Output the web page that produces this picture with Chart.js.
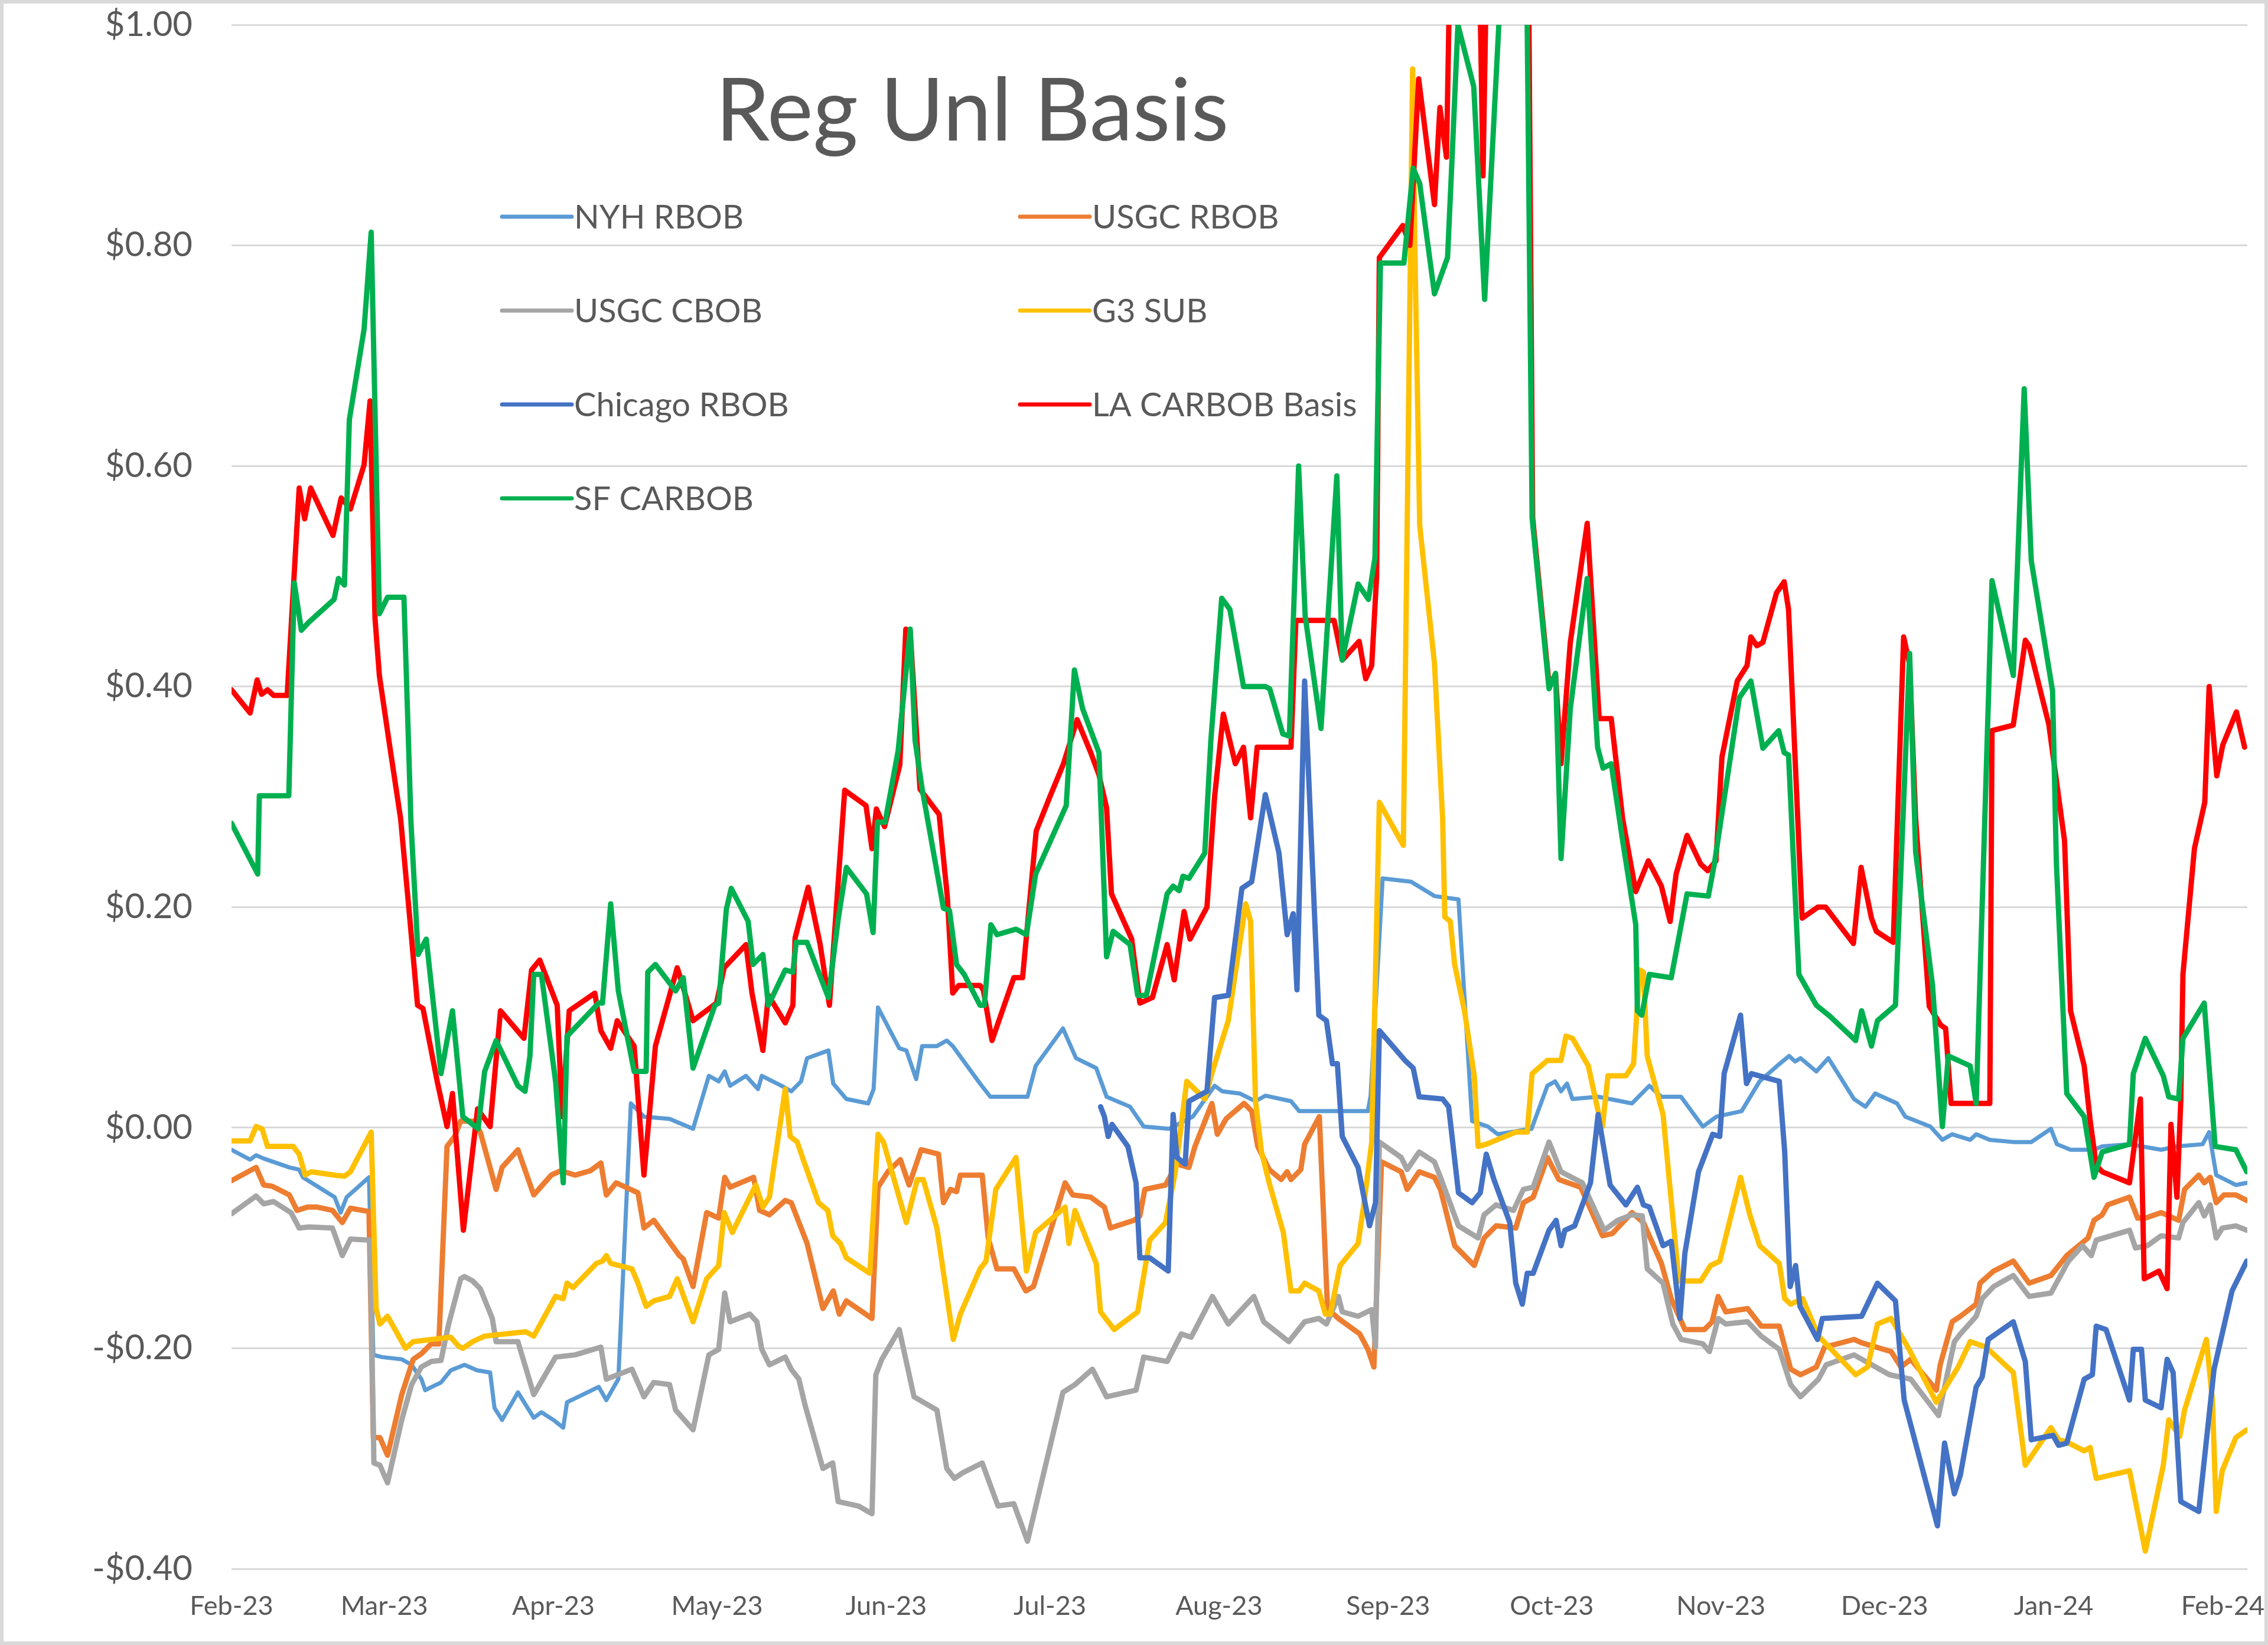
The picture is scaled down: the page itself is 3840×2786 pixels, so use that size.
<!DOCTYPE html>
<html>
<head>
<meta charset="utf-8">
<script src="https://cdn.jsdelivr.net/npm/chart.js@4.4.0/dist/chart.umd.min.js"></script>
<style>
  html, body { margin: 0; padding: 0; background: #fff; }
  #wrap { width: 3840px; height: 2786px; }
</style>
</head>
<body>
<div id="wrap"><canvas id="chart" width="3840" height="2786"></canvas></div>
<script>
var chartTitle = 'Reg Unl Basis';

// month ticks: day offset from 1 Feb 2023
var monthDays   = [0, 28, 59, 89, 120, 150, 181, 212, 242, 273, 303, 334, 365];
var monthLabels = ['Feb-23','Mar-23','Apr-23','May-23','Jun-23','Jul-23','Aug-23','Sep-23','Oct-23','Nov-23','Dec-23','Jan-24','Feb-24'];

var seriesNames = ['NYH RBOB','USGC RBOB','USGC CBOB','G3 SUB','Chicago RBOB','LA CARBOB Basis','SF CARBOB'];

// [day, $/gal]
var nyhRbob = [[0,-0.020],[3.4,-0.029],[4.5,-0.025],[5.9,-0.028],[10.6,-0.036],[12.4,-0.038],[13.1,-0.045],[18.9,-0.063],[20,-0.077],[21.1,-0.063],
  [25.2,-0.045],[26,-0.206],[27.6,-0.208],[31.2,-0.210],[33,-0.215],[34.8,-0.228],[35.5,-0.238],[38.4,-0.231],[40.2,-0.220],[42.7,-0.215],
  [45,-0.220],[47.4,-0.222],[48.2,-0.254],[49.6,-0.265],[52.5,-0.240],[55.4,-0.263],[56.8,-0.258],[59,-0.265],[60.8,-0.272],[61.5,-0.249],
  [67.3,-0.235],[68.7,-0.247],[70.9,-0.228],[73.2,0.022],[75.6,0.010],[80.3,0.008],[84.6,-0.001],[87.5,0.047],[89.3,0.042],[90.4,0.051],
  [91.4,0.038],[94.3,0.047],[96.5,0.035],[97.2,0.047],[100.8,0.038],[102.6,0.033],[104.4,0.042],[105.5,0.063],[109.4,0.070],[110.3,0.040],
  [112.7,0.026],[116.7,0.022],[117.7,0.035],[118.5,0.109],[122.4,0.072],[123.7,0.070],[125.5,0.044],[126.6,0.074],[129.3,0.074],[131.1,0.079],
  [132.2,0.074],[137.2,0.040],[139.1,0.028],[145.9,0.028],[147.4,0.056],[152.4,0.090],[154.8,0.063],[158.5,0.054],[160.4,0.028],[164.7,0.019],
  [167.2,0.001],[171.9,-0.001],[176.2,0.010],[180.2,0.038],[181.6,0.033],[184.8,0.031],[187.7,0.024],[189.5,0.029],[194.2,0.024],[195.7,0.015],
  [208.3,0.015],[208.8,0.029],[211,0.226],[216.2,0.223],[220.5,0.210],[224.9,0.207],[227.4,0.006],[230.3,0.001],[232.1,-0.006],[238.3,-0.001],
  [241.2,0.038],[242.6,0.042],[243.7,0.033],[244.8,0.040],[245.8,0.026],[250.5,0.028],[256.7,0.022],[259.9,0.038],[262.1,0.028],[265.7,0.028],
  [269.7,0.001],[272.2,0.010],[276.8,0.015],[280.1,0.042],[283.3,0.056],[285.5,0.065],[286.6,0.060],[287.6,0.063],[290.5,0.051],[292.7,0.063],
  [297.4,0.026],[299.5,0.019],[301.3,0.031],[305.3,0.022],[306.8,0.010],[311.4,0.001],[313.6,-0.011],[315.4,-0.006],[318.7,-0.011],[319.8,-0.006],
  [322.3,-0.011],[326.6,-0.013],[329.9,-0.013],[333.5,-0.001],[334.6,-0.015],[337.1,-0.020],[341.4,-0.020],[342.9,-0.017],[347.9,-0.015],[353.7,-0.020],
  [356.6,-0.017],[361.3,-0.015],[362.5,-0.004],[363.8,-0.043],[367.4,-0.052],[369.4,-0.050]];

var usgcRbob = [[0,-0.048],[4.5,-0.036],[5.9,-0.052],[7.4,-0.053],[10.6,-0.061],[12,-0.075],[13.9,-0.072],[15.7,-0.072],[18.5,-0.075],[20.3,-0.086],
  [21.8,-0.073],[25.2,-0.076],[26,-0.281],[27.2,-0.281],[28.6,-0.297],[31.2,-0.242],[33.3,-0.210],[34.8,-0.205],[36.6,-0.196],[38,-0.196],
  [39.5,-0.017],[40.9,-0.008],[42,0.006],[44.2,0.006],[45.6,-0.004],[48.5,-0.056],[49.6,-0.036],[52.5,-0.020],[55.4,-0.061],[58.6,-0.043],
  [60.4,-0.039],[63,-0.043],[65.8,-0.039],[67.7,-0.032],[68.7,-0.061],[70.5,-0.050],[74.5,-0.059],[75.6,-0.091],[77.4,-0.084],[82.1,-0.116],
  [82.8,-0.119],[84.6,-0.144],[87.1,-0.077],[89.3,-0.082],[90.4,-0.045],[91.4,-0.054],[95.7,-0.045],[96.8,-0.075],[98.6,-0.079],[101.5,-0.066],
  [102.6,-0.068],[105.5,-0.105],[108.4,-0.164],[110.3,-0.148],[111.4,-0.169],[112.7,-0.157],[117.4,-0.173],[118.5,-0.054],[120.3,-0.040],[122.6,-0.029],
  [124.2,-0.052],[126.4,-0.020],[129.6,-0.024],[130.5,-0.068],[131.8,-0.056],[132.9,-0.058],[133.6,-0.043],[137.6,-0.043],[138.7,-0.100],[140.3,-0.128],
  [143.4,-0.128],[145.6,-0.148],[147,-0.144],[152.8,-0.050],[154.2,-0.061],[157.5,-0.063],[160,-0.072],[161.1,-0.091],[165.4,-0.084],[166.5,-0.080],
  [167.4,-0.056],[171.2,-0.052],[173.3,-0.033],[175.5,-0.036],[176.6,-0.017],[179.7,0.022],[180.7,-0.006],[182.3,0.008],[185.6,0.022],[187,0.015],
  [188.1,-0.017],[190.2,-0.038],[192.4,-0.047],[193.5,-0.040],[194.2,-0.047],[196,-0.038],[196.7,-0.015],[199.4,0.010],[200.9,-0.164],[202.9,-0.173],
  [206.8,-0.187],[208.3,-0.201],[209.4,-0.217],[210.8,-0.031],[214.4,-0.040],[215.5,-0.056],[217.7,-0.040],[220.5,-0.045],[221.6,-0.056],[224.2,-0.107],
  [226,-0.116],[227.8,-0.125],[229.6,-0.100],[231.8,-0.089],[235.4,-0.091],[236.8,-0.068],[238.6,-0.063],[241.2,-0.027],[243.3,-0.047],[247.3,-0.054],
  [251.3,-0.098],[253.1,-0.096],[256.7,-0.077],[258.8,-0.086],[262.1,-0.123],[263.9,-0.155],[266.4,-0.183],[270,-0.183],[271.4,-0.176],[272.5,-0.153],
  [273.9,-0.167],[277.9,-0.164],[280.4,-0.180],[283.7,-0.180],[285.8,-0.219],[287.6,-0.224],[290.5,-0.217],[292,-0.199],[297.4,-0.192],[298.8,-0.195],
  [304.2,-0.203],[306,-0.217],[307.8,-0.210],[312.5,-0.238],[313.2,-0.215],[315.4,-0.176],[316.9,-0.171],[319.8,-0.160],[320.5,-0.141],[323,-0.130],
  [326.6,-0.121],[329.5,-0.141],[333.5,-0.134],[336.4,-0.116],[340.3,-0.100],[341.4,-0.084],[342.9,-0.079],[343.9,-0.070],[347.9,-0.063],[349.4,-0.082],
  [350.8,-0.082],[353.7,-0.077],[356.9,-0.084],[358,-0.056],[360.6,-0.043],[361.6,-0.050],[362.7,-0.045],[363.8,-0.068],[365.2,-0.061],[367.4,-0.061],
  [369.4,-0.066]];

var usgcCbob = [[0,-0.078],[4.5,-0.062],[5.9,-0.069],[7.7,-0.067],[10.9,-0.077],[12.4,-0.091],[14.2,-0.090],[18.5,-0.091],[20.3,-0.116],[21.8,-0.101],
  [25.4,-0.102],[26.1,-0.304],[27.2,-0.306],[28.6,-0.322],[31.2,-0.265],[33,-0.233],[34.8,-0.217],[36.6,-0.212],[38.4,-0.211],[39.8,-0.178],
  [42,-0.137],[42.7,-0.135],[44.2,-0.139],[45.6,-0.146],[47.8,-0.173],[48.5,-0.194],[52.5,-0.194],[55.4,-0.242],[59.4,-0.208],[63,-0.206],
  [67.7,-0.199],[68.7,-0.228],[73.4,-0.219],[75.6,-0.244],[77.4,-0.231],[80.3,-0.233],[81.4,-0.256],[84.6,-0.274],[87.5,-0.206],[89.3,-0.201],
  [90.4,-0.150],[91.4,-0.176],[95,-0.169],[96.3,-0.176],[97.2,-0.201],[98.6,-0.215],[101.5,-0.208],[102.6,-0.219],[104,-0.228],[105.1,-0.251],
  [108.4,-0.309],[110.2,-0.304],[111.2,-0.339],[114.9,-0.343],[117.4,-0.350],[118.1,-0.224],[119.2,-0.210],[122.4,-0.183],[125.1,-0.244],[129.3,-0.256],
  [131.1,-0.309],[132.5,-0.318],[134,-0.313],[137.6,-0.304],[140.5,-0.343],[143.4,-0.341],[145.9,-0.375],[152.4,-0.240],[154.6,-0.233],[157.8,-0.219],
  [160.4,-0.244],[165.8,-0.238],[167.2,-0.208],[171.5,-0.212],[174.1,-0.187],[175.9,-0.190],[179.8,-0.153],[182.7,-0.178],[187.4,-0.153],[189.2,-0.176],
  [193.8,-0.194],[196.7,-0.176],[199.3,-0.173],[200.7,-0.178],[202.9,-0.153],[203.6,-0.167],[206.5,-0.171],[209,-0.165],[209.7,-0.199],[210.4,-0.013],
  [214.4,-0.027],[215.5,-0.038],[217.7,-0.022],[220.5,-0.031],[221.6,-0.045],[224.9,-0.089],[228.5,-0.100],[229.6,-0.079],[231.8,-0.070],[235,-0.075],
  [236.8,-0.056],[238.6,-0.054],[241.5,-0.013],[243.7,-0.040],[247.6,-0.050],[251.6,-0.093],[254.1,-0.084],[256.7,-0.079],[258.6,-0.080],[259.5,-0.128],
  [262.4,-0.141],[264.2,-0.178],[265.7,-0.192],[269.7,-0.196],[270.9,-0.203],[272.5,-0.173],[273.9,-0.178],[277.9,-0.176],[280.4,-0.189],[283.7,-0.201],
  [285.8,-0.233],[287.6,-0.244],[290.9,-0.228],[292.3,-0.215],[297.4,-0.206],[303.9,-0.224],[307.8,-0.228],[312.9,-0.261],[314.7,-0.219],[315.8,-0.194],
  [316.9,-0.187],[319.8,-0.171],[320.9,-0.155],[323,-0.144],[326.6,-0.134],[329.5,-0.153],[333.5,-0.150],[336.7,-0.121],[339.3,-0.107],[340.9,-0.116],
  [341.8,-0.102],[347.9,-0.093],[349,-0.109],[351.2,-0.107],[353.7,-0.098],[356.9,-0.100],[357.7,-0.086],[360.6,-0.068],[361.6,-0.080],[362.7,-0.070],
  [363.8,-0.100],[364.9,-0.091],[367.4,-0.089],[369.4,-0.093]];

var g3Sub = [[0,-0.012],[3.4,-0.012],[4.5,0.001],[5.6,-0.001],[6.6,-0.017],[11.3,-0.017],[12.4,-0.024],[13.5,-0.043],[14.6,-0.040],[18.9,-0.043],
  [20.7,-0.044],[21.8,-0.040],[25.6,-0.004],[26.5,-0.164],[27.2,-0.178],[28.6,-0.171],[31.9,-0.200],[33.3,-0.194],[40.2,-0.190],[41.6,-0.198],
  [42.4,-0.200],[44.2,-0.194],[46.4,-0.189],[53.9,-0.185],[55.4,-0.189],[59.4,-0.153],[60.8,-0.155],[61.5,-0.141],[62.6,-0.145],[66.9,-0.123],
  [68,-0.121],[68.7,-0.116],[69.5,-0.123],[73.4,-0.128],[74.5,-0.141],[76,-0.162],[77.4,-0.157],[80.3,-0.153],[81.7,-0.137],[84.6,-0.176],
  [87.1,-0.137],[89.3,-0.125],[90.3,-0.077],[91.8,-0.095],[96.1,-0.052],[97.4,-0.072],[98.6,-0.063],[101.5,0.035],[102.4,-0.008],[103.7,-0.013],
  [104.8,-0.029],[107.6,-0.068],[109.3,-0.075],[110.2,-0.098],[111.6,-0.105],[112.7,-0.118],[117,-0.132],[118.5,-0.006],[119.5,-0.013],[123.7,-0.086],
  [125.7,-0.047],[126.8,-0.047],[129.3,-0.091],[132.3,-0.192],[133.6,-0.169],[137.2,-0.128],[138.3,-0.121],[140.1,-0.056],[143.8,-0.027],[145.7,-0.130],
  [147.4,-0.095],[152.8,-0.072],[153.5,-0.105],[154.6,-0.075],[158.5,-0.123],[159.3,-0.167],[161.8,-0.183],[166.1,-0.167],[168.3,-0.102],[171.2,-0.086],
  [173,-0.040],[175.1,0.042],[178.4,0.026],[179.8,0.051],[182.7,0.097],[185.9,0.203],[186.8,0.187],[187.7,0.024],[188.8,-0.022],[190.2,-0.050],
  [192.8,-0.095],[194.2,-0.148],[195.7,-0.148],[196.7,-0.141],[199.3,-0.148],[200.5,-0.169],[201.4,-0.169],[203.2,-0.125],[206.5,-0.105],[207.6,-0.068],
  [209,-0.013],[210.4,0.295],[214.8,0.256],[216.5,0.960],[216.9,0.800],[217.8,0.546],[220.5,0.421],[222,0.280],[222.4,0.191],[223.4,0.187],
  [224.2,0.148],[226,0.106],[227.8,0.047],[228.5,-0.017],[230,-0.015],[235.4,-0.004],[237.5,-0.004],[238.4,0.049],[241.2,0.061],[243.7,0.061],
  [244.6,0.083],[245.8,0.081],[248.7,0.056],[250.5,0.015],[251.3,0.001],[252.3,0.047],[255.6,0.047],[257,0.058],[258.1,0.143],[258.8,0.141],
  [259.5,0.065],[262.4,0.012],[265.3,-0.139],[269.3,-0.139],[271.1,-0.125],[272.8,-0.121],[276.6,-0.045],[278.3,-0.079],[280.1,-0.107],[283.7,-0.123],
  [284.7,-0.155],[285.8,-0.160],[288,-0.155],[290.9,-0.189],[297.7,-0.224],[299.9,-0.217],[301.7,-0.178],[304.2,-0.173],[307.5,-0.201],[312.5,-0.249],
  [316.5,-0.217],[318.7,-0.194],[321.6,-0.199],[326.6,-0.222],[328.8,-0.306],[333.5,-0.272],[334.9,-0.283],[336.4,-0.285],[339.6,-0.293],[340.7,-0.290],
  [341.8,-0.318],[347.9,-0.311],[350.8,-0.384],[354.1,-0.306],[355.1,-0.265],[357.1,-0.280],[358,-0.256],[362,-0.192],[363.1,-0.247],[363.8,-0.348],
  [364.9,-0.311],[367.4,-0.281],[369.4,-0.274]];

var chicagoRbob = [[159.3,0.019],[160,0.010],[160.7,-0.008],[161.4,0.003],[164.3,-0.017],[165.8,-0.050],[166.5,-0.118],[168.3,-0.118],[171.7,-0.130],[172.6,0.012],
  [173.3,-0.027],[174.8,-0.033],[175.5,0.024],[178.8,0.033],[180.2,0.118],[182.7,0.120],[185.2,0.217],[187,0.223],[189.5,0.302],[192,0.249],
  [193.5,0.175],[194.6,0.194],[195.3,0.125],[196.7,0.405],[199.3,0.102],[200.7,0.097],[201.8,0.058],[202.7,0.058],[203.6,-0.008],[206.5,-0.036],
  [208.6,-0.089],[209.7,-0.068],[210.4,0.088],[215.1,0.061],[216.6,0.054],[217.7,0.028],[222,0.026],[223.1,0.019],[224.9,-0.059],[227.4,-0.068],
  [228.9,-0.059],[230,-0.024],[231.4,-0.047],[234.3,-0.086],[235.4,-0.141],[236.6,-0.160],[237.5,-0.132],[238.6,-0.132],[241.5,-0.093],[242.8,-0.084],
  [243.7,-0.107],[244.4,-0.093],[246.2,-0.089],[249.1,-0.050],[250.5,0.012],[252.7,-0.052],[255.6,-0.070],[257.7,-0.054],[258.8,-0.070],[259.9,-0.072],
  [262.4,-0.107],[263.9,-0.103],[265.5,-0.173],[266.4,-0.114],[268.9,-0.040],[271.5,-0.006],[272.8,-0.008],[273.6,0.049],[276.6,0.102],[277.7,0.040],
  [278.6,0.049],[283.7,0.042],[284.7,-0.022],[285.7,-0.144],[286.7,-0.125],[287.5,-0.162],[290.7,-0.192],[291.6,-0.173],[298.8,-0.171],[301.7,-0.141],
  [305,-0.157],[306.6,-0.247],[312.7,-0.361],[314,-0.286],[315.8,-0.332],[316.9,-0.315],[319.8,-0.235],[320.9,-0.226],[322,-0.192],[326.6,-0.176],
  [328.8,-0.212],[329.9,-0.283],[333.9,-0.279],[334.9,-0.288],[336.4,-0.286],[339.6,-0.228],[341.1,-0.224],[341.8,-0.180],[343.6,-0.183],[347.9,-0.247],
  [348.6,-0.201],[350.1,-0.201],[350.8,-0.247],[353.7,-0.254],[354.8,-0.210],[355.9,-0.222],[357.3,-0.339],[360.6,-0.348],[363.4,-0.219],[366.7,-0.148],
  [369.4,-0.121]];

var laCarbob = [[0,0.397],[3.4,0.376],[4.7,0.406],[5.5,0.393],[6.6,0.397],[7.7,0.392],[10.2,0.392],[12.4,0.580],[13.4,0.552],[14.5,0.580],
  [18.6,0.537],[20.1,0.571],[21.8,0.561],[24.3,0.601],[25.4,0.659],[26.3,0.462],[27.1,0.410],[29,0.346],[31,0.280],[32.6,0.194],
  [34.1,0.111],[35.1,0.108],[37.7,0.042],[39.5,0.001],[40.5,0.031],[42.5,-0.093],[45.1,0.017],[47.4,0.001],[49.3,0.106],[53.6,0.081],
  [55,0.143],[56.5,0.152],[59.7,0.111],[60.6,0.010],[61.9,0.106],[66.6,0.122],[67.7,0.088],[69.5,0.072],[70.7,0.097],[73.8,0.074],
  [75.6,-0.043],[77.7,0.074],[81.7,0.145],[82.4,0.134],[84.6,0.097],[88.9,0.113],[90.3,0.145],[94.3,0.166],[95.4,0.122],[97.4,0.070],
  [98.4,0.120],[101.5,0.095],[102.9,0.111],[103.3,0.172],[105.7,0.218],[107.9,0.166],[109.6,0.111],[112.4,0.306],[116.3,0.292],[117.4,0.253],
  [118.2,0.289],[119.7,0.273],[122.5,0.329],[123.6,0.452],[124.4,0.450],[126.2,0.307],[129.7,0.284],[131.2,0.210],[132.2,0.122],[133.3,0.129],
  [137.2,0.129],[137.8,0.125],[139.4,0.079],[143.4,0.136],[145,0.136],[147.5,0.269],[150,0.300],[152.5,0.330],[155,0.370],[157.5,0.340],
  [159,0.320],[160.4,0.290],[161.3,0.212],[165,0.171],[166.5,0.113],[168.8,0.118],[171.5,0.166],[172.8,0.134],[174.6,0.196],[175.7,0.171],
  [178.8,0.200],[180.2,0.300],[181.8,0.375],[184,0.330],[185.5,0.345],[186.8,0.281],[188,0.345],[194.2,0.345],[195.1,0.460],[202.1,0.460],
  [203.6,0.424],[206.7,0.441],[207.9,0.407],[209,0.419],[209.9,0.500],[210.4,0.789],[214.7,0.818],[216,0.800],[217.6,0.951],[220.5,0.837],
  [221.5,0.925],[222.7,0.880],[223.5,1.100],[228.6,1.100],[229.4,0.863],[230.2,1.100],[237.6,1.150],[238.5,0.553],[241.5,0.402],[242.7,0.410],
  [243.7,0.330],[245.4,0.440],[248.5,0.548],[250.7,0.371],[252.9,0.371],[255,0.280],[257.4,0.214],[259.7,0.242],[262.1,0.219],[263.7,0.187],
  [264.8,0.230],[266.8,0.265],[269.3,0.239],[270.6,0.233],[272.1,0.242],[273.2,0.336],[276,0.405],[277.8,0.419],[278.5,0.445],[279.6,0.437],
  [280.7,0.440],[283.2,0.485],[284.6,0.495],[285.4,0.470],[287.9,0.190],[290.8,0.200],[292.2,0.200],[297.3,0.167],[298.7,0.236],[300.6,0.190],
  [301.5,0.178],[304.6,0.168],[306.5,0.445],[307.6,0.420],[308.7,0.280],[311.2,0.110],[313.3,0.093],[314.2,0.090],[315.2,0.022],[322.3,0.022],
  [322.7,0.360],[326.6,0.365],[328.8,0.442],[329.5,0.437],[333.1,0.366],[336,0.260],[337.1,0.106],[339.6,0.056],[340.7,0.006],[341.8,-0.034],
  [342.9,-0.040],[347.9,-0.050],[349.9,0.026],[350.6,-0.137],[353.3,-0.130],[354.8,-0.146],[355.5,0.003],[356.6,-0.063],[357.3,0.024],[357.7,0.139],
  [359.8,0.253],[361.7,0.295],[362.5,0.400],[363.9,0.319],[365,0.347],[367.5,0.377],[369,0.345]];

var sfCarbob = [[0,0.276],[4.8,0.230],[5.1,0.301],[10.5,0.301],[11.5,0.494],[12.8,0.451],[14.1,0.458],[18.8,0.479],[19.6,0.498],[20.7,0.492],
  [21.6,0.642],[24.3,0.724],[25.6,0.812],[27.1,0.466],[28.6,0.481],[31.6,0.481],[32.9,0.276],[34.2,0.157],[35.7,0.171],[38.4,0.049],
  [40.5,0.106],[42.4,0.010],[45.2,-0.001],[46.4,0.051],[48.5,0.079],[52.5,0.038],[53.8,0.033],[54.7,0.065],[55.4,0.139],[56.8,0.139],
  [59.4,0.042],[60.8,-0.050],[61.5,0.083],[67.3,0.113],[68,0.113],[69.5,0.203],[70.9,0.124],[73.8,0.051],[76,0.051],[76.3,0.141],
  [77.7,0.148],[81.4,0.124],[82.8,0.136],[84.6,0.054],[88.6,0.111],[89.3,0.113],[90.7,0.198],[91.6,0.217],[94.7,0.187],[95.6,0.148],
  [97.4,0.157],[98.4,0.111],[101.5,0.143],[102.9,0.141],[103.5,0.168],[105.5,0.168],[109.4,0.118],[111.2,0.189],[112.7,0.236],[116.4,0.212],
  [117.6,0.177],[118.4,0.277],[119.8,0.277],[122.2,0.342],[124.4,0.452],[125.3,0.351],[126.6,0.307],[130.5,0.199],[131.6,0.197],[132.9,0.148],
  [134.3,0.139],[137.2,0.111],[138,0.111],[139.2,0.184],[140.3,0.175],[143.8,0.180],[145.7,0.175],[147.4,0.230],[153,0.292],[154.5,0.415],
  [156,0.380],[157.5,0.360],[159,0.340],[160.4,0.155],[161.6,0.178],[164.7,0.166],[166.1,0.120],[167.7,0.120],[171.5,0.212],[172.6,0.219],
  [173.7,0.215],[174.4,0.228],[175.5,0.226],[178.4,0.249],[179.5,0.350],[181.5,0.480],[183,0.470],[185.5,0.400],[189.5,0.400],[190.3,0.398],
  [192.7,0.357],[193.9,0.355],[195.6,0.600],[196.8,0.464],[199.7,0.362],[202.6,0.591],[203.6,0.424],[206.5,0.493],[208.4,0.479],[209.6,0.517],
  [210.6,0.784],[214.9,0.784],[216.6,0.870],[217.8,0.856],[220.5,0.756],[222.9,0.789],[223.6,0.865],[224.8,1.000],[227.7,0.944],[229.7,0.751],
  [232.3,1.000],[234.5,1.200],[237.4,1.050],[238.4,0.553],[241.5,0.398],[242.7,0.412],[243.7,0.244],[245.4,0.380],[248.5,0.498],[250.4,0.345],
  [251.4,0.326],[252.9,0.330],[255,0.260],[257.4,0.184],[257.7,0.106],[258.5,0.102],[259.9,0.139],[263.9,0.136],[266.8,0.212],[270.7,0.210],
  [271.8,0.239],[273.9,0.308],[276.4,0.390],[278.5,0.405],[280.7,0.344],[283.6,0.360],[284.6,0.340],[285.4,0.338],[287.3,0.139],[290.5,0.111],
  [293,0.101],[297.7,0.079],[298.8,0.106],[300.6,0.074],[301.7,0.097],[305,0.111],[307.6,0.430],[308.7,0.250],[311.8,0.129],[313.6,0.001],
  [314.7,0.065],[318.7,0.056],[319.8,0.022],[322.7,0.496],[326.6,0.410],[328.6,0.670],[329.9,0.514],[333.8,0.396],[334.5,0.240],[336.4,0.031],
  [339.6,0.010],[341.4,-0.045],[342.9,-0.022],[347.9,-0.015],[348.6,0.049],[350.8,0.081],[354.1,0.047],[355.1,0.028],[356.9,0.026],[357.7,0.081],
  [361.6,0.113],[363.6,-0.017],[367.4,-0.020],[369.4,-0.040]];

var seriesData   = [nyhRbob, usgcRbob, usgcCbob, g3Sub, chicagoRbob, laCarbob, sfCarbob];
var seriesColors = ['#5B9BD5','#ED7D31','#A5A5A5','#FFC000','#4472C4','#FF0000','#00B050'];
var seriesWidths = [7, 9, 9, 9, 9, 9, 9];

function toPoints(arr){
  return arr.map(function(p){ return { x: p[0], y: p[1] }; });
}

function money(v){
  var r = Math.round(v * 100) / 100;
  if (Math.abs(r) < 0.001) r = 0;
  return (r < 0 ? '-$' : '$') + Math.abs(r).toFixed(2);
}

var datasets = seriesNames.map(function(name, i){
  return {
    label: name,
    data: toPoints(seriesData[i]),
    borderColor: seriesColors[i],
    backgroundColor: seriesColors[i],
    borderWidth: seriesWidths[i],
    pointRadius: 0,
    tension: 0,
    fill: false,
    borderJoinStyle: 'round',
    borderCapStyle: 'round',
    order: seriesNames.length - i   // later series on top, like Excel
  };
});

// title, legend and frame are drawn inside the plot, Excel style
var overlay = {
  id: 'overlay',
  afterDraw: function(chart){
    var ctx = chart.ctx;
    ctx.save();
    ctx.fillStyle = '#595959';
    ctx.font = '147px Lato';
    ctx.textAlign = 'center';
    ctx.textBaseline = 'alphabetic';
    ctx.fillText(chartTitle, 1646, 238);

    var colX = [850, 1727], rowY = 367, rowStep = 159, lineLen = 118;
    ctx.font = '56px Lato';
    ctx.textAlign = 'left';
    ctx.textBaseline = 'middle';
    chart.data.datasets.forEach(function(ds, i){
      var x = colX[i % 2], y = rowY + Math.floor(i / 2) * rowStep;
      ctx.strokeStyle = ds.borderColor;
      ctx.lineWidth = 7;
      ctx.lineCap = 'round';
      ctx.beginPath();
      ctx.moveTo(x, y);
      ctx.lineTo(x + lineLen, y);
      ctx.stroke();
      ctx.fillStyle = '#595959';
      ctx.fillText(ds.label, x + lineLen + 4, y + 2);
    });

    ctx.strokeStyle = '#D9D9D9';
    ctx.lineWidth = 6;
    ctx.strokeRect(3, 3, chart.width - 6, chart.height - 6);
    ctx.restore();
  }
};

new Chart(document.getElementById('chart'), {
  type: 'line',
  data: { datasets: datasets },
  options: {
    responsive: false,
    animation: false,
    devicePixelRatio: 1,
    layout: { padding: { top: 42, right: 35, left: 0, bottom: 0 } },
    plugins: { legend: { display: false }, tooltip: { enabled: false }, title: { display: false } },
    scales: {
      x: {
        type: 'linear',
        min: 0,
        max: 369.5,
        grid: { display: false, drawTicks: false },
        border: { display: false },
        afterBuildTicks: function(scale){
          scale.ticks = monthDays.map(function(d){ return { value: d }; });
        },
        afterFit: function(scale){
          scale.height = 129;
          scale.paddingLeft = 0;
          scale.paddingRight = 0;
        },
        ticks: {
          autoSkip: false,
          maxRotation: 0,
          minRotation: 0,
          padding: 36,
          color: '#595959',
          font: { family: 'Lato', size: 45 },
          callback: function(v){
            var i = monthDays.indexOf(v);
            return i < 0 ? '' : monthLabels[i];
          }
        }
      },
      y: {
        min: -0.4,
        max: 1.0,
        grid: { color: '#D9D9D9', lineWidth: 3, drawTicks: false },
        border: { display: false },
        afterFit: function(scale){
          scale.width = 392;
          scale.paddingTop = 0;
          scale.paddingBottom = 0;
        },
        ticks: {
          stepSize: 0.2,
          padding: 66,
          color: '#595959',
          font: { family: 'Lato', size: 58 },
          callback: function(v){ return money(v); }
        }
      }
    }
  },
  plugins: [overlay]
});
</script>
</body>
</html>
